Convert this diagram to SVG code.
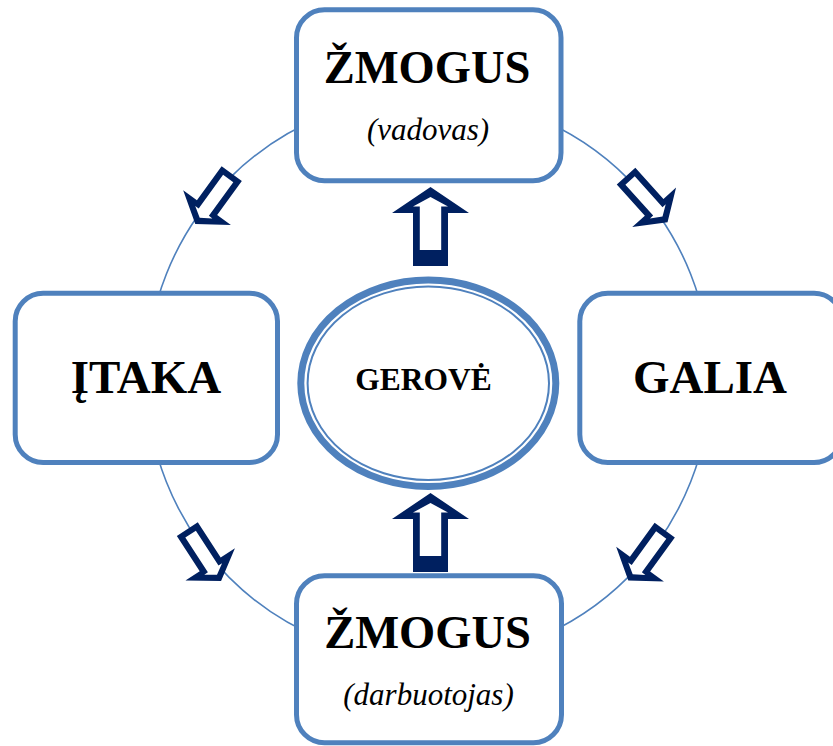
<svg xmlns="http://www.w3.org/2000/svg" xmlns:xlink="http://www.w3.org/1999/xlink" width="833" height="746" viewBox="0 0 833 746">
  <style>
    .box { fill: #ffffff; stroke: #4f81bd; stroke-width: 5; }
    .ring { fill: none; stroke: #4f81bd; stroke-width: 1.6; }
    .big { font-family: "Liberation Serif", "Times New Roman", serif; font-weight: bold; fill: #000; text-anchor: middle; }
    .sub { font-family: "Liberation Serif", "Times New Roman", serif; font-style: italic; fill: #000; text-anchor: middle; }
  </style>
  <defs>
    <!-- hollow block arrow pointing up, centred on the origin (solid heel) -->
    <g id="blockArrow">
      <polygon points="0,-39.5 38.5,-13.5 17.5,-13.5 17.5,39.5 -17.5,39.5 -17.5,-13.5 -38.5,-13.5" fill="#002060"/>
      <polygon points="0,-29.5 17.5,-20 10.7,-20 10.7,23.5 -10.7,23.5 -10.7,-20 -17.5,-20" fill="#ffffff"/>
    </g>
    <!-- smaller hollow arrow used around the ring, even outline -->
    <g id="ringArrow">
      <polygon points="0,-31 29.5,-11 12.5,-11 12.5,31 -12.5,31 -12.5,-11 -29.5,-11" fill="#002060"/>
      <polygon points="0,-23.5 10.6,-16.5 6.3,-16.5 6.3,25 -6.3,25 -6.3,-16.5 -10.6,-16.5" fill="#ffffff"/>
    </g>
  </defs>

  <!-- cycle ring behind the nodes -->
  <g id="connectors">
    <circle class="ring" cx="428.5" cy="378" r="282"/>
    <use xlink:href="#ringArrow" transform="translate(213.5,198.8) rotate(-144)"/>
    <use xlink:href="#ringArrow" transform="translate(646.8,199.1) rotate(138)"/>
    <use xlink:href="#ringArrow" transform="translate(646.5,555.3) rotate(-144)"/>
    <use xlink:href="#ringArrow" transform="translate(204.2,555.1) rotate(147)"/>
    <use xlink:href="#blockArrow" transform="translate(430.5,226.5)"/>
    <use xlink:href="#blockArrow" transform="translate(430.5,532.5)"/>
  </g>

  <g id="node-leader">
    <rect class="box" x="296.5" y="9.8" width="264.5" height="171" rx="28"/>
    <text class="big" x="427" y="83" font-size="46.5">ŽMOGUS</text>
    <text class="sub" x="428" y="140" font-size="31">(vadovas)</text>
  </g>

  <g id="node-influence">
    <rect class="box" x="15.2" y="293.2" width="262.3" height="169.3" rx="28"/>
    <text class="big" x="146" y="393" font-size="47">ĮTAKA</text>
  </g>

  <g id="node-power">
    <rect class="box" x="579.8" y="293.2" width="262.3" height="169.3" rx="28"/>
    <text class="big" x="710" y="393" font-size="47">GALIA</text>
  </g>

  <g id="node-worker">
    <rect class="box" x="296.5" y="575.8" width="265" height="167" rx="28"/>
    <text class="big" x="427.5" y="648" font-size="46.5">ŽMOGUS</text>
    <text class="sub" x="428.5" y="705" font-size="31">(darbuotojas)</text>
  </g>

  <g id="node-wellbeing">
    <ellipse cx="428.3" cy="383.3" rx="127.5" ry="103.2" fill="#ffffff" stroke="#4f81bd" stroke-width="7"/>
    <ellipse cx="428.3" cy="383.3" rx="120.7" ry="96.7" fill="none" stroke="#4f81bd" stroke-width="2"/>
    <text class="big" x="423.5" y="390" font-size="31.5">GEROVĖ</text>
  </g>
</svg>
